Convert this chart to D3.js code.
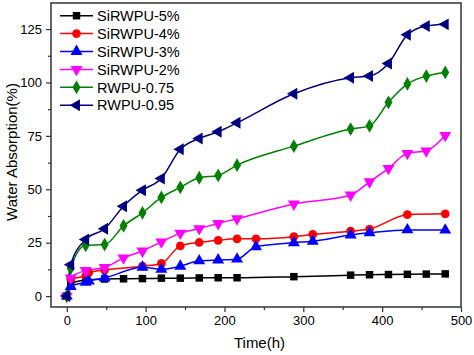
<!DOCTYPE html>
<html><head><meta charset="utf-8">
<script src="https://cdn.jsdelivr.net/npm/d3@7"></script>
<style>html,body{margin:0;padding:0;background:#fff;}svg{display:block;font-family:"Liberation Sans",Arial,sans-serif;}</style>
</head><body>
<svg id="c" width="474" height="355"></svg>
<script>
const seriesNames = ["SiRWPU-5%","SiRWPU-4%","SiRWPU-3%","SiRWPU-2%","RWPU-0.75","RWPU-0.95"];
const t5 = [0,5,24,48,72,96,120,144,168,192,216,288,360,384,408,432,456,480];
const v5 = [0,6,7.5,8,8.1,8.2,8.4,8.4,8.5,8.6,8.6,9.1,9.8,10,10.1,10.2,10.3,10.4];
const t4 = [0,5,24,28,48,96,120,144,168,192,216,240,288,312,360,384,432,480];
const v4 = [0,8,9.5,11,12.2,14,15.3,23.5,25.1,26.1,26.8,26.8,27.8,28.9,30.4,31.4,38.1,38.5];
const t3 = [0,5,24,28,48,96,120,144,168,192,216,240,288,312,360,384,432,480];
const v3 = [0,4.5,6.5,7,8.5,13.5,12.5,14,16.5,16.9,17.3,23.1,25,25.7,28.6,29.6,31,30.9];
const t2 = [0,5,24,48,72,96,120,144,168,192,216,288,360,384,408,432,456,480];
const v2 = [0,8.5,12,13.4,17.9,21.1,25.4,29.5,31.6,34,36.2,43.1,47.3,53.5,59.8,66.8,68,75.2];
const t075 = [0,5,24,48,72,96,120,144,168,192,216,288,360,384,408,432,456,480];
const v075 = [0,13,23.8,24.1,32.9,39,46.2,50.9,55.4,56.5,61.3,70.2,78.2,79.7,90.7,99.3,103,104.7];
const t095 = [0,5,24,48,72,96,120,144,168,192,216,288,360,384,408,432,456,480];
const v095 = [0,14.7,26.5,31.5,42.1,49.6,55.1,68.7,73.8,76.9,81.1,94.7,102.2,103,108.9,122.3,126.4,127.2];
const xTicks = [0,100,200,300,400,500];
const yTicks = [0,25,50,75,100,125];

const colors = ["#000000","#ff0000","#0000ff","#ff00ff","#008000","#000080"];
const shapes = ["square","circle","triUp","triDown","diamond","triLeft"];
const times = [t5,t4,t3,t2,t075,t095];
const vals = [v5,v4,v3,v2,v075,v095];

const svg = d3.select("#c");
const L=51,R=461,T=3,B=307;
const x = d3.scaleLinear().domain([-20,500]).range([L,R]);
const y = d3.scaleLinear().domain([-5.1,137.2]).range([B,T]);

function symPath(shape){
  switch(shape){
    case "square": return d3.symbol(d3.symbolSquare,56)();
    case "circle": return d3.symbol(d3.symbolCircle,60)();
    case "diamond": return d3.symbol(d3.symbolDiamond,55)();
    default: return d3.symbol(d3.symbolTriangle,62)();
  }
}
function symRot(shape){
  if(shape==="triDown") return 180;
  if(shape==="triLeft") return -90;
  return 0;
}

// axes
const xAxis = d3.axisBottom(x).tickValues(xTicks).tickSize(5).tickPadding(4);
const yAxis = d3.axisLeft(y).tickValues(yTicks).tickSize(5).tickPadding(4);
const gx = svg.append("g").attr("transform",`translate(0,${B})`).call(xAxis);
const gy = svg.append("g").attr("transform",`translate(${L},0)`).call(yAxis);
// minor ticks
svg.append("g").attr("transform",`translate(0,${B})`)
  .call(d3.axisBottom(x).tickValues([50,150,250,350,450]).tickSize(3).tickFormat(""));
svg.append("g").attr("transform",`translate(${L},0)`)
  .call(d3.axisLeft(y).tickValues([12.5,37.5,62.5,87.5,112.5]).tickSize(3).tickFormat(""));
svg.selectAll(".domain").remove();
svg.selectAll(".tick line").attr("stroke","#333").attr("stroke-width",1.2);
gx.selectAll("text").attr("font-size",13).attr("fill","#000").attr("font-family","Liberation Sans, Arial, sans-serif");
gy.selectAll("text").attr("font-size",13).attr("fill","#000").attr("font-family","Liberation Sans, Arial, sans-serif");

// frame
svg.append("rect").attr("x",L).attr("y",T).attr("width",R-L).attr("height",B-T)
  .attr("fill","none").attr("stroke","#333").attr("stroke-width",1.5);

// lines
const line = d3.line().x(d=>x(d[0])).y(d=>y(d[1])).curve(d3.curveMonotoneX);
const plot = svg.append("g");
seriesNames.forEach((name,i)=>{
  const pts = times[i].map((t,j)=>[t,vals[i][j]]);
  plot.append("path").datum(pts).attr("d",line).attr("fill","none")
    .attr("stroke",colors[i]).attr("stroke-width",1.5);
});
seriesNames.forEach((name,i)=>{
  const pts = times[i].map((t,j)=>[t,vals[i][j]]);
  plot.selectAll(null).data(pts).enter().append("path")
    .attr("d",symPath(shapes[i]))
    .attr("transform",d=>`translate(${x(d[0])},${y(d[1])}) rotate(${symRot(shapes[i])})`)
    .attr("fill",colors[i]);
});

// legend
const lg = svg.append("g");
seriesNames.forEach((name,i)=>{
  const yy = 15.7 + i*17.9;
  lg.append("line").attr("x1",60).attr("x2",93).attr("y1",yy).attr("y2",yy)
    .attr("stroke",colors[i]).attr("stroke-width",1.5);
  lg.append("path").attr("d",symPath(shapes[i]))
    .attr("transform",`translate(76.5,${yy}) rotate(${symRot(shapes[i])})`).attr("fill",colors[i]);
  lg.append("text").attr("x",97).attr("y",yy+5.2).attr("font-size",14.5).attr("fill","#000").text(name);
});

// axis titles
svg.append("text").attr("x",(233+286)/2).attr("y",348).attr("text-anchor","middle")
  .attr("font-size",15).attr("fill","#000").text("Time(h)");
svg.append("text").attr("transform","translate(17,152) rotate(-90)").attr("text-anchor","middle")
  .attr("font-size",15).attr("fill","#000").text("Water Absorption(%)");
</script>
</body></html>
